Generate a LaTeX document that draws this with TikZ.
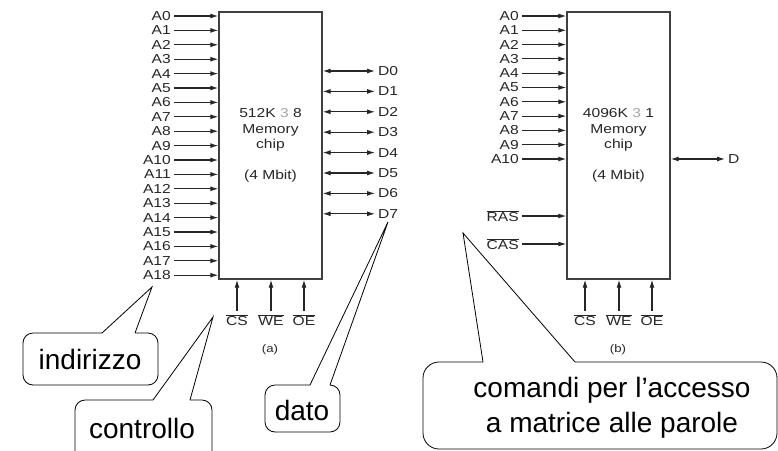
\documentclass[tikz,border=0pt]{standalone}
\usepackage{fontspec}
\setmainfont{Liberation Sans}
\newfontfamily\chipfont[FakeStretch=1.2]{Liberation Sans}
\usetikzlibrary{arrows.meta}
\newcommand{\ov}[1]{$\overline{\hbox{#1}}$}
\newcommand{\per}{\textcolor{black!35}{3}}

\tikzset{
  wire/.style={draw=black!85, line width=1.1pt, -{Latex[length=8pt,width=5pt]}},
  biwire/.style={wire, {Latex[length=8pt,width=5pt]}-{Latex[length=8pt,width=5pt]}},
  chip/.style={draw=black!75, line width=1.4pt, minimum width=103pt, minimum height=267pt,
    font=\chipfont\fontsize{13}{15.5}\selectfont, text=black!85, align=center},
  lbl/.style={font=\chipfont\fontsize{13}{13}\selectfont, text=black!85, inner sep=3pt},
  balloon/.style={draw, line width=0.8pt},
  big/.style={font=\fontsize{28}{35}\selectfont, align=center}
}

\begin{document}
\begin{tikzpicture}[x=1pt,y=-1pt]
   \clip (0,0) rectangle (778,450);

   % (a) 512K x 8
   \node[chip] (chipa) at (270.5,145.5) {512K \per{} 8\\Memory\\chip\\[15.5pt](4 Mbit)};
   \foreach \i in {0,...,18} {
     \node[lbl, anchor=east] (la\i) at (174,16+14.4*\i) {A\i};
     \draw[wire] (la\i.east) -- (la\i.east -| chipa.west);
   }
   \foreach \i in {0,...,7} {
     \node[lbl, anchor=west] (da\i) at (375,71+20.4*\i) {D\i};
     \draw[biwire] (da\i.west -| chipa.east) -- (da\i.west);
   }
   \foreach \s/\x in {CS/237,WE/271,OE/304} {
     \node[lbl] (ca\s) at (\x,320) {\ov{\s}};
     \draw[wire] (ca\s.north) -- (ca\s.north |- chipa.south);
   }
   \node[lbl, font=\chipfont\fontsize{11}{11}\selectfont] (capa) at (270,350) {(a)};

   % (b) 4096K x 1
   \node[chip] (chipb) at (618.5,145.5) {4096K \per{} 1\\Memory\\chip\\[15.5pt](4 Mbit)};
   \foreach \i in {0,...,10} {
     \node[lbl, anchor=east] (lb\i) at (522,16+14.3*\i) {A\i};
     \draw[wire] (lb\i.east) -- (lb\i.east -| chipb.west);
   }
   \node[lbl, anchor=east] (ras) at (522,216) {\ov{RAS}};
   \node[lbl, anchor=east] (cas) at (522,244) {\ov{CAS}};
   \draw[wire] (ras.east) -- (ras.east -| chipb.west);
   \draw[wire] (cas.east) -- (cas.east -| chipb.west);
   \node[lbl, anchor=west] (db) at (725,159) {D};
   \draw[biwire] (db.west -| chipb.east) -- (db.west);
   \foreach \s/\x in {CS/585,WE/619,OE/652} {
     \node[lbl] (cb\s) at (\x,320) {\ov{\s}};
     \draw[wire] (cb\s.north) -- (cb\s.north |- chipb.south);
   }
   \node[lbl, font=\chipfont\fontsize{11}{11}\selectfont] (capb) at (618,350) {(b)};

   % balloons
   \node[big] (ind) at (90,359) {indirizzo};
   \coordinate (indtip) at (152,287);
   \draw[balloon, rounded corners=10pt] (135,333) -- (158,333) -- (158,385) -- (23,385) -- (23,333) -- (102,333);
   \draw[balloon] (102,333) -- (indtip) -- (135,333);

   \node[big] (ctl) at (142,428) {controllo};
   \coordinate (ctltip) at (213,317);
   \draw[balloon, rounded corners=10pt] (190,400) -- (212,400) -- (212,470) -- (75,470) -- (75,400) -- (153,400);
   \draw[balloon] (153,400) -- (ctltip) -- (190,400);

   \node[big] (dat) at (302,410) {dato};
   \coordinate (dattip) at (388,222);
   \draw[balloon, rounded corners=10pt] (330,385) -- (340,385) -- (340,432) -- (265,432) -- (265,385) -- (310,385);
   \draw[balloon] (310,385) -- (dattip) -- (330,385);

   \node[big] (cmd) at (612,408) {comandi per l’accesso\\a matrice alle parole};
   \coordinate (cmdtip) at (463,233);
   \draw[balloon, rounded corners=16pt] (575,362) -- (777,362) -- (777,449) -- (423,449) -- (423,362) -- (483,362);
   \draw[balloon] (483,362) -- (cmdtip) -- (575,362);
\end{tikzpicture}
\end{document}
